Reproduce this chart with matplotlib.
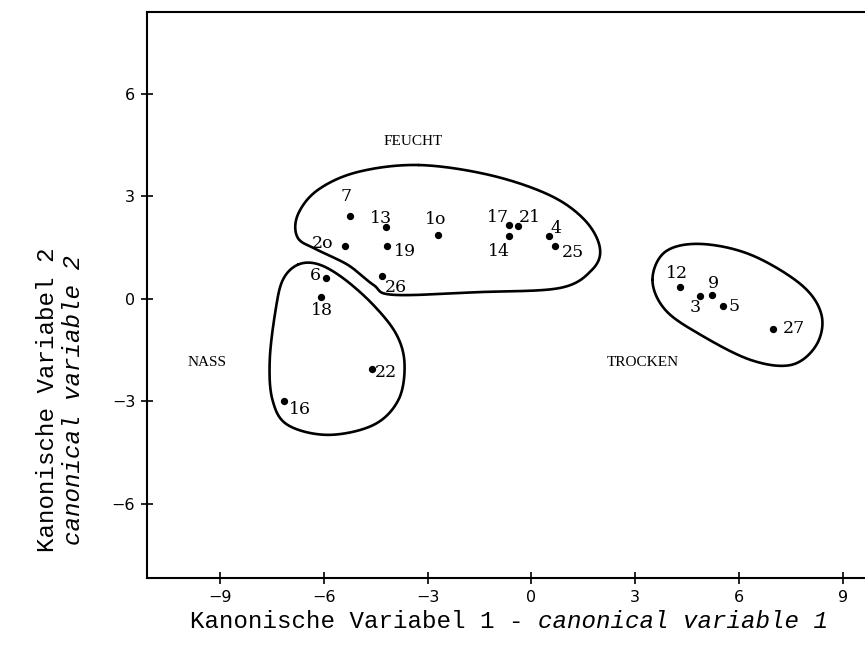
import numpy as np
import matplotlib.pyplot as plt

# canonical scores
site_labels = ["7", "13", "1o", "17", "21", "14", "4", "25", "2o", "19", "6", "26",
               "18", "22", "16", "12", "3", "9", "5", "27"]
can1 = [-5.25, -4.20, -2.71, -0.66, -0.40, -0.66, 0.50, 0.68, -5.39, -4.17, -5.93, -4.33,
        -6.10, -4.62, -7.15, 4.31, 4.87, 5.21, 5.55, 7.00]
can2 = [2.44, 2.10, 1.86, 2.15, 2.14, 1.85, 1.83, 1.54, 1.54, 1.55, 0.62, 0.66,
        0.05, -2.04, -3.00, 0.34, 0.08, 0.11, -0.20, -0.87]

group_names = ["FEUCHT", "NASS", "TROCKEN"]
group_x = [-4.28, -9.96, 2.18]
group_y = [4.62, -1.87, -1.87]

# hand drawn group outlines (data units)
feucht_x = [-3.26, -1.22, 0.52, 1.54, 1.98, 1.75, 0.82, -1.51, -3.99, -4.57, -5.30, -6.18, -6.76, -6.76, -6.18, -5.01]
feucht_y = [3.92, 3.63, 3.04, 2.31, 1.49, 0.85, 0.32, 0.20, 0.12, 0.41, 0.99, 1.43, 1.79, 2.46, 3.19, 3.72]
nass_x = [-6.76, -6.18, -5.45, -4.57, -3.90, -3.67, -3.85, -4.57, -5.88, -7.05, -7.49, -7.57, -7.40, -7.19]
nass_y = [1.00, 1.02, 0.61, -0.18, -1.05, -1.93, -2.96, -3.69, -3.98, -3.69, -2.96, -1.79, -0.32, 0.56]
trocken_x = [3.50, 3.87, 4.89, 6.35, 7.81, 8.39, 8.24, 7.52, 6.35, 4.89, 3.87]
trocken_y = [0.56, 1.38, 1.61, 1.29, 0.41, -0.47, -1.35, -1.93, -1.79, -1.05, -0.32]

xticks = [-9, -6, -3, 0, 3, 6, 9]
yticks = [-6, -3, 0, 3, 6]

# label offsets in pixels (dx, dy)
label_off = [(-4, 19), (-5, 9), (-2, 16), (-11, 8), (12, 8), (-10, -16), (7, 8), (18, -6),
             (-22, 3), (18, -6), (-11, 2), (14, -11), (1, -13), (14, -4), (16, -8),
             (-3, 14), (-5, -11), (2, 12), (11, -1), (20, 0)]


def closed_spline(xs, ys, n=30):
    # periodic catmull-rom through the outline vertices
    p = np.column_stack([xs, ys])
    k = len(p)
    out = []
    for i in range(k):
        p0, p1, p2, p3 = p[i - 1], p[i], p[(i + 1) % k], p[(i + 2) % k]
        t = np.linspace(0, 1, n, endpoint=False)[:, None]
        seg = 0.5 * ((2 * p1) + (-p0 + p2) * t + (2 * p0 - 5 * p1 + 4 * p2 - p3) * t ** 2
                     + (-p0 + 3 * p1 - 3 * p2 + p3) * t ** 3)
        out.append(seg)
    out = np.vstack(out)
    out = np.vstack([out, out[:1]])
    return out[:, 0], out[:, 1]


fig = plt.figure(figsize=(8.65, 6.55), dpi=100)
ax = fig.add_axes([147 / 865, 1 - 578 / 655, (872 - 147) / 865, (578 - 12) / 655])

for xs, ys in [(feucht_x, feucht_y), (nass_x, nass_y), (trocken_x, trocken_y)]:
    cx, cy = closed_spline(xs, ys)
    ax.plot(cx, cy, color="black", lw=1.9, solid_capstyle="round")

ax.scatter(can1, can2, s=18, color="black", zorder=3)
for lab, x, y, off in zip(site_labels, can1, can2, label_off):
    ax.annotate(lab, (x, y), xytext=off, textcoords="offset pixels",
                ha="center", va="center", fontsize=12.5, family="DejaVu Serif")

for name, x, y in zip(group_names, group_x, group_y):
    ax.text(x, y, name, ha="left", va="center", fontsize=11, family="Liberation Serif")

ax.set_xlim(-11.12, 9.85)
ax.set_ylim(-8.17, 8.40)
ax.set_xticks(xticks)
ax.set_yticks(yticks)
ax.set_xticklabels([str(v).replace("-", "\u2212") for v in xticks])
ax.set_yticklabels([str(v).replace("-", "\u2212") for v in yticks])
ax.tick_params(direction="inout", length=9, width=1.2, labelsize=11.5, pad=4)
ax.spines["right"].set_visible(False)
for s in ["left", "bottom", "top"]:
    ax.spines[s].set_linewidth(1.5)

fig.text(538 / 865, 1 - 621 / 655, "Kanonische Variabel 1 - ", ha="right", va="center",
         fontsize=17.4, family="Liberation Mono")
fig.text(538 / 865, 1 - 621 / 655, "canonical variable 1", ha="left", va="center",
         fontsize=17.4, family="Liberation Mono", style="italic")
fig.text(48 / 865, 1 - 400 / 655, "Kanonische Variabel 2", ha="center", va="center",
         rotation=90, fontsize=17.4, family="Liberation Mono")
fig.text(74 / 865, 1 - 400 / 655, "canonical variable 2", ha="center", va="center",
         rotation=90, fontsize=17.4, family="Liberation Mono", style="italic")

fig.savefig("out.png", dpi=100)
